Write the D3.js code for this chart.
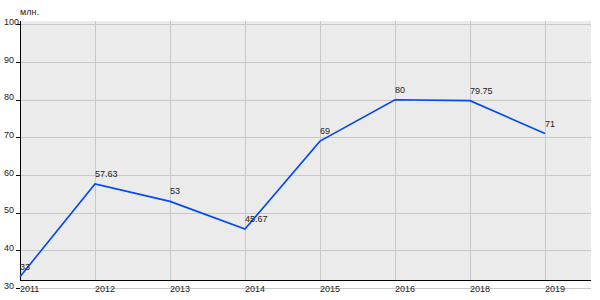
<!DOCTYPE html>
<html><head><meta charset="utf-8">
<script src="https://cdn.jsdelivr.net/npm/d3@7"></script>
<style>body{margin:0;background:#fff}svg{display:block}text{font-family:"Liberation Sans",Arial,sans-serif;font-size:9px;fill:#222}</style>
</head><body><svg id="c" width="600" height="300"></svg>
<script>
const years = ["2011","2012","2013","2014","2015","2016","2018","2019"];
const values = [33, 57.63, 53, 45.67, 69, 80, 79.75, 71];
const labels = ["33","57.63","53","45.67","69","80","79.75","71"];
const yTicks = [30,40,50,60,70,80,90,100];
const unit = "млн.";

const svg = d3.select("#c");
const L = 20, R = 591, T = 21, B = 280;
const x = d3.scalePoint().domain(years).range([L, L + 75 * (years.length - 1)]);
const y = d3.scaleLinear().domain([30, 100]).range([288, 24.4]);

svg.append("rect").attr("x", L).attr("y", T).attr("width", R - L).attr("height", B - T).attr("fill", "#ebebeb");

// horizontal gridlines
svg.append("g").selectAll("line").data(yTicks).join("line")
  .attr("x1", L).attr("x2", R).attr("y1", d => Math.round(y(d)) + 0.5).attr("y2", d => Math.round(y(d)) + 0.5)
  .attr("stroke", "#c8c8c8").attr("stroke-width", 1);
// vertical gridlines
svg.append("g").selectAll("line").data(years.slice(1)).join("line")
  .attr("x1", d => Math.round(x(d)) + 0.5).attr("x2", d => Math.round(x(d)) + 0.5).attr("y1", T).attr("y2", B)
  .attr("stroke", "#c8c8c8").attr("stroke-width", 1);

// y tick marks + labels
svg.append("g").selectAll("line").data(yTicks).join("line")
  .attr("x1", L - 4).attr("x2", L).attr("y1", d => Math.round(y(d)) + 0.5).attr("y2", d => Math.round(y(d)) + 0.5)
  .attr("stroke", "#000");
svg.append("g").selectAll("text").data(yTicks).join("text")
  .attr("x", 4).attr("y", d => y(d) + 0.5).text(d => d);

// axes lines
svg.append("line").attr("x1", L + 0.5).attr("x2", L + 0.5).attr("y1", T).attr("y2", B).attr("stroke", "#000");
svg.append("line").attr("x1", L).attr("x2", R).attr("y1", B + 0.5).attr("y2", B + 0.5).attr("stroke", "#000");

// x tick labels
svg.append("g").selectAll("text").data(years).join("text")
  .attr("x", d => x(d)).attr("y", 292).text(d => d);

// unit
svg.append("text").attr("x", 20).attr("y", 15).text(unit);

// line
svg.append("path").datum(values)
  .attr("d", d3.line().x((d, i) => x(years[i])).y(d => y(d)))
  .attr("fill", "none").attr("stroke", "#0048f0").attr("stroke-width", 1.6);

// value labels
svg.append("g").selectAll("text").data(values).join("text")
  .attr("x", (d, i) => x(years[i])).attr("y", d => y(d) - 7).text((d, i) => labels[i]);
</script></body></html>
